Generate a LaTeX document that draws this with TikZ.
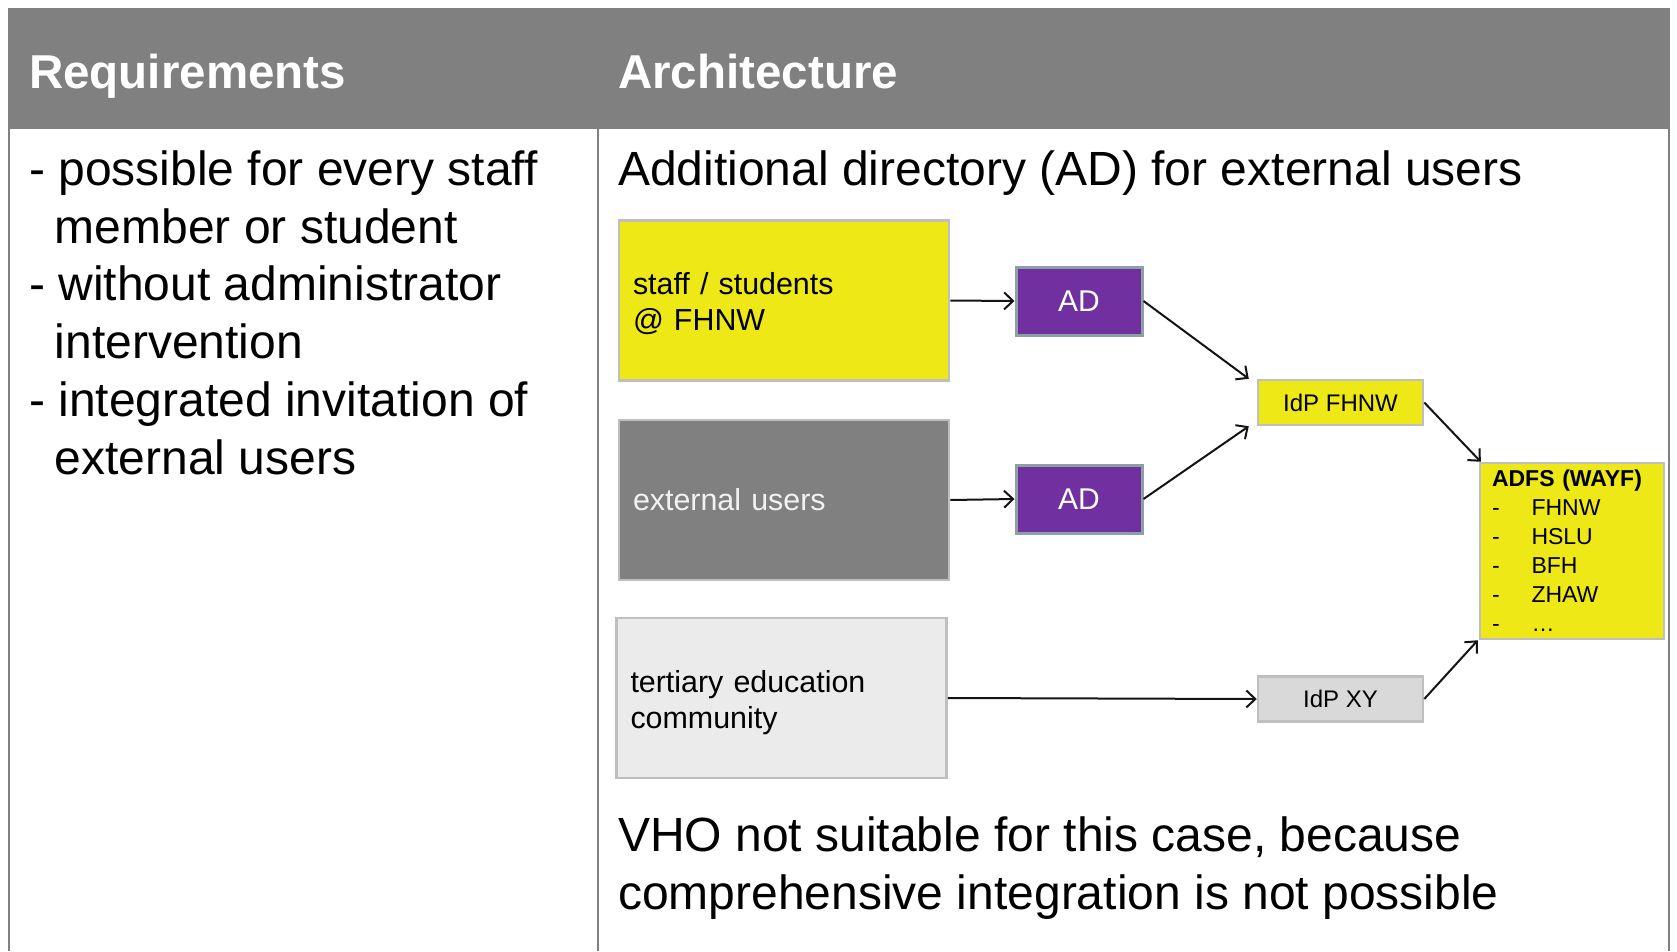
\documentclass[tikz,border=0pt]{standalone}
\usepackage{fontspec}
\setmainfont{Liberation Sans}
\usetikzlibrary{arrows.meta}
\definecolor{hdrgray}{RGB}{128,128,128}
\definecolor{boxyellow}{RGB}{238,232,22}
\definecolor{adpurple}{RGB}{112,48,160}
\definecolor{adborder}{RGB}{140,160,165}
\definecolor{boxborder}{RGB}{191,191,191}
\definecolor{lightbox}{RGB}{235,235,235}
\definecolor{idpgray}{RGB}{217,217,217}
\definecolor{linegray}{RGB}{128,128,128}
\definecolor{arrowcol}{RGB}{20,20,20}
\begin{document}
\begin{tikzpicture}[x=1pt,y=-1pt,
  bigtext/.style={font=\fontsize{48}{57.8}\selectfont, inner sep=0pt, anchor=base west},
  hdrtext/.style={bigtext, font=\fontsize{47.5}{57.8}\selectfont\bfseries, text=white},
  srcbox/.style={draw=boxborder, line width=2.5pt, minimum width=330pt, minimum height=160pt,
     text width=302pt, inner xsep=14pt, align=left, font=\fontsize{30.4}{36.5}\selectfont},
  adbox/.style={draw=adborder, line width=3pt, fill=adpurple, minimum width=126pt, minimum height=68pt,
     text=white, font=\fontsize{30}{36}\selectfont},
  idpbox/.style={draw=boxborder, line width=2.5pt, minimum width=165pt, minimum height=45pt,
     font=\fontsize{24}{29}\selectfont},
  conn/.style={draw=arrowcol, line width=2pt, -{Straight Barb[length=9pt,width=17pt]}}
]
\useasboundingbox (0,0) rectangle (1677,951);
% header
\fill[hdrgray] (7.5,7.5) rectangle (1670,129);
\node[hdrtext] (hreq) at (29,88) {Requirements};
\node[hdrtext] (harch) at (618,88) {Architecture};
% table lines
\draw[linegray, line width=2pt] (8.5,129) -- (8.5,951);
\draw[linegray, line width=2pt] (598,129) -- (598,951);
\draw[linegray, line width=2pt] (1669,129) -- (1669,951);
% left column
\node[bigtext] (l1) at (29,185) {- possible for every staff};
\node[bigtext] (l2) at (54.5,243) {member or student};
\node[bigtext] (l3) at (29,300.5) {- without administrator};
\node[bigtext] (l4) at (54.5,358) {intervention};
\node[bigtext] (l5) at (29,416) {- integrated invitation of};
\node[bigtext] (l6) at (54.5,474) {external users};
% right column
\node[bigtext] (r1) at (618,185) {Additional directory (AD) for external users};
\node[bigtext] (r2) at (618,851) {VHO not suitable for this case, because};
\node[bigtext] (r3) at (618,909) {comprehensive integration is not possible};
% diagram
\node[srcbox, fill=boxyellow] (staff) at (784,300.5) {\rule{0pt}{28pt}staff / students\\@ FHNW};
\node[srcbox, fill=hdrgray, text=white!95!black] (ext) at (784,500) {external users};
\node[srcbox, fill=lightbox] (tert) at (781.5,698) {\rule{0pt}{31pt}tertiary education\\community};
\node[adbox] (ad1) at (1079,301) {AD};
\node[adbox] (ad2) at (1079,499) {AD};
\node[idpbox, fill=boxyellow] (idpf) at (1340.5,402.5) {IdP FHNW};
\node[idpbox, fill=idpgray] (idpxy) at (1340.5,699) {IdP XY};
\node[draw=boxborder, line width=2.5pt, fill=boxyellow, minimum width=184pt, minimum height=176pt,
      text width=160pt, inner xsep=12pt, align=left, font=\fontsize{23}{29}\selectfont] (adfs) at (1572,551)
  {\textbf{ADFS (WAYF)}\\
   \makebox[39.5pt][l]{-}FHNW\\
   \makebox[39.5pt][l]{-}HSLU\\
   \makebox[39.5pt][l]{-}BFH\\
   \makebox[39.5pt][l]{-}ZHAW\\
   \makebox[39.5pt][l]{-}…};
% connectors
\draw[conn] (staff.east) -- (ad1.west);
\draw[conn] (ext.east) -- (ad2.west);
\draw[conn] (ad1.east) -- ([xshift=-8pt]idpf.north west);
\draw[conn] (ad2.east) -- ([xshift=-8pt]idpf.south west);
\draw[conn] (idpf.east) -- ([xshift=2pt]adfs.north west);
\draw[conn] (tert.east) -- (idpxy.west);
\draw[conn] (idpxy.east) -- ([xshift=-1pt]adfs.south west);
\end{tikzpicture}
\end{document}
